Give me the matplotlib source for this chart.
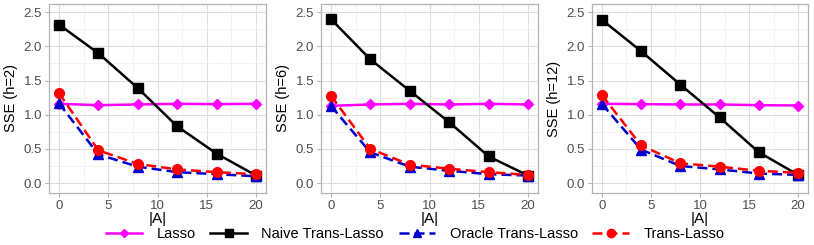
import numpy as np
import matplotlib.pyplot as plt
from matplotlib.lines import Line2D

# sizes of the informative set |A|
sizes = [0, 4, 8, 12, 16, 20]
h_values = [2, 6, 12]

# SSE per panel (h = 2, 6, 12)
lasso = [
    [1.16, 1.14, 1.15, 1.16, 1.155, 1.16],
    [1.13, 1.15, 1.16, 1.15, 1.16, 1.15],
    [1.16, 1.155, 1.15, 1.15, 1.14, 1.135],
]
naive = [
    [2.32, 1.90, 1.39, 0.83, 0.43, 0.11],
    [2.40, 1.81, 1.35, 0.89, 0.39, 0.11],
    [2.39, 1.93, 1.44, 0.96, 0.45, 0.12],
]
oracle = [
    [1.17, 0.42, 0.24, 0.16, 0.13, 0.10],
    [1.13, 0.45, 0.24, 0.18, 0.13, 0.11],
    [1.16, 0.49, 0.25, 0.20, 0.14, 0.12],
]
trans = [
    [1.32, 0.48, 0.28, 0.20, 0.16, 0.13],
    [1.28, 0.50, 0.27, 0.21, 0.16, 0.12],
    [1.29, 0.55, 0.29, 0.24, 0.18, 0.15],
]

plt.rcParams['font.family'] = ['Liberation Sans', 'DejaVu Sans']

fig = plt.figure(figsize=(8.14, 2.45), dpi=100)
lefts = [49, 321, 592]
widths = [217, 217, 216]
bottom = 1 - 193 / 245
height = (193 - 4) / 245

styles = [
    ('Lasso', lasso, '#FF00FF', 'D', '-', 5),
    ('Naive Trans-Lasso', naive, 'black', 's', '-', 6.5),
    ('Oracle Trans-Lasso', oracle, '#0000CC', '^', (0, (4, 2)), 6.5),
    ('Trans-Lasso', trans, '#FF0000', 'o', (0, (4, 2)), 7),
]

for i, h in enumerate(h_values):
    ax = fig.add_axes([lefts[i] / 814, bottom, widths[i] / 814, height])
    for name, data, col, mk, ls, ms in styles:
        ax.plot(sizes, data[i], color=col, marker=mk, linestyle=ls,
                linewidth=1.8, markersize=ms, zorder=3)
    ax.set_xlim(-1, 21)
    ax.set_ylim(-0.145, 2.62)
    ax.set_xticks([0, 5, 10, 15, 20])
    ax.set_yticks([0.0, 0.5, 1.0, 1.5, 2.0, 2.5])
    ax.set_yticklabels(['0.0', '0.5', '1.0', '1.5', '2.0', '2.5'])
    ax.set_xticks(np.arange(2.5, 20, 5), minor=True)
    ax.set_yticks(np.arange(0.25, 2.5, 0.5), minor=True)
    ax.grid(which='major', color='#DEDEDE', linewidth=0.8)
    ax.grid(which='minor', color='#EFEFEF', linewidth=0.5)
    ax.set_axisbelow(True)
    for sp in ax.spines.values():
        sp.set_color('#B3B3B3')
        sp.set_linewidth(0.9)
    ax.tick_params(which='major', length=3, color='#B3B3B3', labelsize=9.5,
                   labelcolor='#4D4D4D', pad=2)
    ax.tick_params(which='minor', length=0)
    ax.set_xlabel('|A|', fontsize=11, labelpad=0)
    ax.set_ylabel('SSE (h=%d)' % h, fontsize=10.5, labelpad=4)

handles = [Line2D([0], [0], color=col, marker=mk, linestyle=ls, linewidth=1.8,
                  markersize=ms - 1) for name, data, col, mk, ls, ms in styles]
labels = [s[0] for s in styles]
fig.legend(handles, labels, loc='center', bbox_to_anchor=(415 / 814, 1 - 234 / 245),
           ncol=4, frameon=False, fontsize=10.5, handlelength=2.5,
           columnspacing=1.0, handletextpad=1.0)

fig.savefig('out.png', dpi=100)
